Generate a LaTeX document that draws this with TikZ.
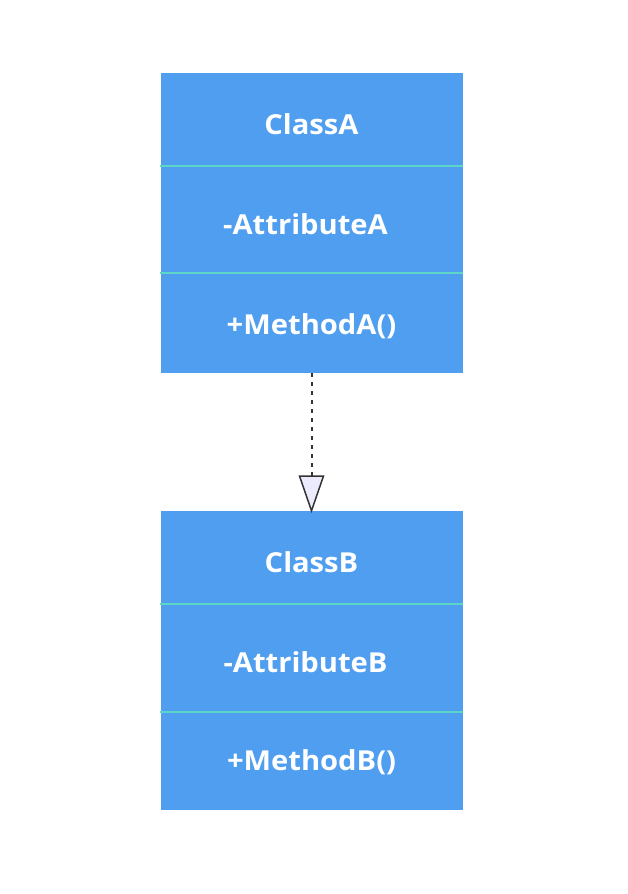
\documentclass[tikz,border=0pt]{standalone}
\usepackage{fontspec}
\setmainfont{Open Sans}[FakeStretch=1.06]
\definecolor{boxblue}{RGB}{80,158,240}
\definecolor{divline}{RGB}{92,214,200}
\definecolor{tri}{RGB}{236,235,253}
\definecolor{ink}{RGB}{51,51,51}
\tikzset{
  cell/.style={fill=boxblue, draw=none, minimum width=302pt, inner sep=0pt},
  lbl/.style={text=white, inner sep=0pt, font=\fontsize{27.5}{30}\selectfont\bfseries},
  divider/.style={draw=divline, line width=1.5pt},
  dep/.style={draw=ink, line width=2pt, dash pattern=on 4pt off 5pt},
}
\begin{document}
\begin{tikzpicture}[x=1pt,y=-1pt]
\useasboundingbox (0,0) rectangle (628,894);
% ClassA
\node[cell, minimum height=93pt] (a1) at (311.5,119.5) {};
\node[cell, minimum height=107pt] (a2) at (311.5,219.5) {};
\node[cell, minimum height=100pt] (a3) at (311.5,323) {};
\draw[divider] (a1.south west) -- (a1.south east);
\draw[divider] (a2.south west) -- (a2.south east);
\node[lbl] (ta1) at (311.5,124.5) {ClassA};
\node[lbl] (ta2) at (305.5,224.5) {-AttributeA};
\node[lbl] (ta3) at (311.5,326.5) {+MethodA()};
% ClassB
\node[cell, minimum height=93pt] (b1) at (311.5,557.5) {};
\node[cell, minimum height=108pt] (b2) at (311.5,658) {};
\node[cell, minimum height=98pt] (b3) at (311.5,761) {};
\draw[divider] (b1.south west) -- (b1.south east);
\draw[divider] (b2.south west) -- (b2.south east);
\node[lbl] (tb1) at (311.5,562.5) {ClassB};
\node[lbl] (tb2) at (305.5,662.5) {-AttributeB};
\node[lbl] (tb3) at (311.5,762.5) {+MethodB()};
% realization arrow
\coordinate (tritop) at (311.5,476);
\draw[dep] (a3.south) -- (tritop);
\draw[draw=ink, line width=1.5pt, fill=tri, line join=miter] (299.5,476) -- (323.5,476) -- (b1.north) -- cycle;
\end{tikzpicture}
\end{document}
